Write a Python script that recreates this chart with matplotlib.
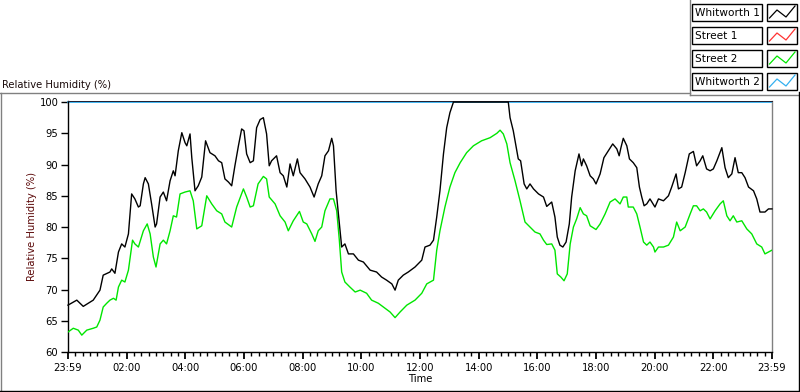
import matplotlib
matplotlib.use("Agg")
import matplotlib.pyplot as plt
from matplotlib.lines import Line2D
from matplotlib.patches import Rectangle

# ---------------- data ----------------
series_names = ["Whitworth 1", "Street 1", "Street 2", "Whitworth 2"]
series_colors = ["#000000", "#ff3333", "#00e600", "#33b0f0"]

tick_hours = [0, 2, 4, 6, 8, 10, 12, 14, 16, 18, 20, 22, 24]
tick_labels = ["23:59", "02:00", "04:00", "06:00", "08:00", "10:00", "12:00",
               "14:00", "16:00", "18:00", "20:00", "22:00", "23:59"]
y_ticks = [60, 65, 70, 75, 80, 85, 90, 95, 100]

# Whitworth 1 (hours, %RH)
w1_t = [0.00, 0.30, 0.52, 0.86, 1.09, 1.20, 1.43, 1.49, 1.60, 1.72, 1.83, 1.94,
        2.06, 2.17, 2.28, 2.40, 2.46, 2.57, 2.63, 2.74, 2.85, 2.97, 3.02, 3.14,
        3.25, 3.36, 3.48, 3.59, 3.65, 3.76, 3.88, 3.99, 4.05, 4.16, 4.22, 4.33,
        4.44, 4.56, 4.69, 4.84, 5.01, 5.13, 5.24, 5.35, 5.47, 5.58, 5.69, 5.81,
        5.92, 6.00, 6.09, 6.21, 6.32, 6.43, 6.55, 6.66, 6.77, 6.86, 6.94, 7.11,
        7.23, 7.34, 7.46, 7.57, 7.68, 7.82, 7.91, 8.08, 8.25, 8.39, 8.53, 8.65,
        8.76, 8.88, 8.99, 9.05, 9.14, 9.25, 9.33, 9.44, 9.56, 9.73, 9.90, 10.07,
        10.30, 10.52, 10.69, 10.86, 11.04, 11.15, 11.26, 11.43, 11.60, 11.83,
        12.06, 12.17, 12.34, 12.46, 12.57, 12.68, 12.80, 12.91, 13.02, 13.14,
        15.01, 15.07, 15.18, 15.35, 15.43, 15.55, 15.64, 15.75, 15.87, 16.04,
        16.21, 16.32, 16.49, 16.60, 16.68, 16.77, 16.87, 16.98, 17.09, 17.17,
        17.29, 17.42, 17.51, 17.57, 17.68, 17.80, 17.91, 18.00, 18.14, 18.27,
        18.42, 18.57, 18.71, 18.79, 18.85, 18.93, 19.05, 19.14, 19.27, 19.39,
        19.48, 19.56, 19.64, 19.73, 19.84, 20.01, 20.13, 20.30, 20.47, 20.58,
        20.73, 20.81, 20.92, 21.04, 21.18, 21.32, 21.43, 21.55, 21.64, 21.77,
        21.89, 22.00, 22.12, 22.29, 22.40, 22.51, 22.63, 22.74, 22.85, 22.97,
        23.08, 23.20, 23.37, 23.48, 23.59, 23.76, 23.88, 24.00]
w1_v = [67.5, 68.3, 67.3, 68.3, 69.9, 72.3, 72.8, 73.3, 72.6, 76.0, 77.3, 76.8,
        78.9, 85.3, 84.5, 83.2, 83.4, 86.9, 87.9, 86.9, 83.7, 80.0, 80.5, 84.8,
        85.6, 84.2, 87.4, 89.0, 88.2, 92.2, 95.1, 93.5, 93.0, 94.9, 91.1, 85.8,
        86.6, 88.0, 93.8, 91.9, 91.4, 90.6, 90.3, 87.7, 87.2, 86.6, 89.8, 93.0,
        95.7, 95.4, 91.7, 90.3, 90.6, 95.9, 97.2, 97.5, 94.9, 89.8, 90.6, 91.4,
        88.7, 88.2, 86.4, 90.1, 88.2, 90.9, 88.7, 87.7, 86.4, 84.8, 86.9, 88.2,
        91.4, 92.2, 94.2, 93.0, 85.8, 80.5, 76.8, 77.3, 75.7, 75.7, 74.7, 74.4,
        73.1, 72.8, 72.0, 71.5, 70.9, 69.9, 71.5, 72.3, 72.8, 73.6,
        74.7, 76.8, 77.1, 77.9, 81.6, 85.8, 91.7, 95.9, 98.3, 100.0,
        100.0, 97.5, 95.4, 90.9, 90.6, 86.9, 86.1, 86.9, 86.1, 85.3,
        84.8, 83.3, 84.0, 81.6, 78.4, 77.1, 76.8, 77.6, 80.5, 84.8,
        89.0, 91.7, 89.8, 90.9, 89.8, 88.2, 87.7, 86.9, 88.5, 91.1,
        92.2, 93.3, 92.5, 91.4, 92.7, 94.2, 93.0, 90.9, 90.3, 89.5,
        86.4, 84.8, 83.4, 83.7, 84.5, 83.2, 84.5, 84.2, 85.0, 86.4,
        88.5, 86.1, 86.4, 88.7, 91.7, 92.1, 89.8, 90.6, 91.4, 89.3,
        89.0, 89.3, 90.6, 92.7, 89.5, 87.9, 88.5, 91.1, 88.7, 88.7,
        87.9, 86.4, 85.8, 84.5, 82.4, 82.4, 82.9, 82.9]

# Street 2 (hours, %RH)
s2_t = [0.00, 0.18, 0.35, 0.47, 0.64, 0.86, 0.98, 1.09, 1.20, 1.32, 1.43, 1.55,
        1.64, 1.72, 1.83, 1.94, 2.06, 2.20, 2.28, 2.40, 2.57, 2.70, 2.80, 2.91,
        3.00, 3.14, 3.25, 3.36, 3.48, 3.59, 3.70, 3.82, 3.99, 4.16, 4.27, 4.39,
        4.56, 4.73, 4.90, 5.07, 5.24, 5.35, 5.58, 5.75, 5.98, 6.09, 6.21, 6.32,
        6.48, 6.66, 6.77, 6.86, 7.06, 7.23, 7.40, 7.51, 7.68, 7.89, 8.02, 8.14,
        8.31, 8.42, 8.53, 8.65, 8.76, 8.93, 9.05, 9.16, 9.25, 9.33, 9.44, 9.61,
        9.79, 9.96, 10.18, 10.35, 10.58, 10.81, 10.98, 11.15, 11.32, 11.55,
        11.83, 12.06, 12.23, 12.46, 12.57, 12.68, 12.85, 13.02, 13.19, 13.37,
        13.59, 13.82, 14.10, 14.39, 14.62, 14.73, 14.84, 14.96, 15.07, 15.24,
        15.41, 15.58, 15.75, 15.92, 16.09, 16.21, 16.32, 16.49, 16.60, 16.68,
        16.80, 16.91, 17.02, 17.12, 17.23, 17.34, 17.46, 17.57, 17.68, 17.80,
        18.00, 18.14, 18.31, 18.48, 18.65, 18.82, 18.93, 19.05, 19.10, 19.27,
        19.39, 19.50, 19.62, 19.73, 19.84, 19.96, 20.01, 20.13, 20.30, 20.47,
        20.64, 20.75, 20.87, 21.04, 21.21, 21.32, 21.43, 21.55, 21.66, 21.77,
        21.89, 22.06, 22.23, 22.34, 22.46, 22.57, 22.68, 22.80, 22.97, 23.14,
        23.31, 23.48, 23.65, 23.76, 23.88, 24.00]
s2_v = [63.2, 63.8, 63.5, 62.7, 63.5, 63.8, 64.0, 65.1, 67.2, 67.8, 68.3, 68.6,
        68.3, 70.4, 71.5, 71.2, 73.1, 77.9, 77.3, 76.8, 79.4, 80.5, 78.9, 75.2,
        73.6, 77.3, 77.9, 77.3, 79.4, 81.8, 81.6, 85.3, 85.6, 85.8, 84.2, 79.7,
        80.2, 85.0, 83.7, 82.6, 82.1, 80.8, 80.0, 83.2, 86.1, 84.8, 83.2, 83.4,
        86.9, 88.1, 87.7, 84.8, 83.7, 81.8, 80.8, 79.4, 81.0, 82.5, 80.8, 80.5,
        78.9, 77.7, 79.4, 80.0, 82.6, 84.5, 84.5, 82.6, 77.9, 72.8, 71.2, 70.4,
        69.6, 69.9, 69.4, 68.3, 67.8, 67.0, 66.4, 65.5, 66.4, 67.5,
        68.3, 69.4, 70.9, 71.5, 76.3, 79.4, 83.2, 86.4, 88.7, 90.3,
        91.9, 93.0, 93.8, 94.3, 95.0, 95.5, 94.9, 93.3, 90.3, 87.4,
        84.2, 80.8, 80.0, 79.2, 78.9, 77.9, 77.2, 77.3, 76.3, 72.5,
        72.0, 71.4, 72.5, 77.3, 80.0, 81.3, 83.1, 82.1, 81.8, 80.2,
        79.6, 80.5, 82.1, 84.0, 84.5, 83.7, 84.8, 84.8, 83.2, 83.2,
        82.1, 80.0, 77.6, 77.1, 77.6, 76.8, 76.0, 76.8, 76.8, 77.1,
        78.4, 80.8, 79.4, 80.0, 82.1, 83.4, 83.4, 82.6, 82.9, 82.4,
        81.3, 82.6, 83.7, 84.2, 81.8, 81.0, 81.8, 80.8, 81.0, 79.7,
        78.9, 77.3, 76.8, 75.7, 76.0, 76.3]

# Whitworth 2 (saturated at the top of the scale)
w2_t = [0.0, 24.0]
w2_v = [100.0, 100.0]

# Street 1 has no samples in view
s1_t = []
s1_v = []

# ---------------- figure ----------------
W, H = 800, 392
FONT = "DejaVu Sans"
FS = 7.2
plt.rcParams["font.family"] = [FONT]

fig = plt.figure(figsize=(W / 100, H / 100), dpi=100)
fig.patch.set_facecolor("white")


def fx(px):
    return px / W


def fy(py):
    return 1 - py / H


ax = fig.add_axes([fx(68), fy(352), fx(772) - fx(68), fy(100.5) - fy(352)])
ax.set_xlim(0, 24)
ax.set_ylim(60, 100.25)

ax.plot(w2_t, w2_v, color=series_colors[3], lw=1.3, zorder=2, clip_on=False)
ax.plot(s1_t, s1_v, color=series_colors[1], lw=1.0, zorder=3)
ax.plot(s2_t, s2_v, color=series_colors[2], lw=1.0, zorder=3)
ax.plot(w1_t, w1_v, color=series_colors[0], lw=1.0, zorder=4, clip_on=False)

for s in ["left", "bottom"]:
    ax.spines[s].set_color("black")
    ax.spines[s].set_linewidth(1.0)
ax.spines["right"].set_color("#808080")
ax.spines["right"].set_linewidth(1.0)
ax.spines["top"].set_color("#202030")
ax.spines["top"].set_linewidth(0.7)

ax.set_yticks(y_ticks)
ax.set_yticklabels([str(v) for v in y_ticks])
ax.set_xticks(tick_hours)
ax.set_xticklabels(tick_labels)
ax.set_xticks([h / 4 for h in range(0, 97) if h % 8 != 0], minor=True)
ax.tick_params(axis="y", direction="out", length=5, width=1, pad=2,
               labelsize=FS, colors="black")
ax.tick_params(axis="x", which="major", direction="out", length=5, width=1.3,
               pad=3, labelsize=FS, colors="black")
ax.tick_params(axis="x", which="minor", direction="out", length=3, width=1)
ax.tick_params(right=False, top=False)

ax.set_ylabel("Relative Humidity (%)", fontsize=FS, color="#5c0a0a", labelpad=2)
ax.set_xlabel("Time", fontsize=FS, color="black", labelpad=1)

# title
fig.text(fx(2), fy(88), "Relative Humidity (%)", fontsize=FS, color="#1a0a0a",
         ha="left", va="baseline")

# frame lines
fig.add_artist(Line2D([fx(0), fx(690)], [fy(92.5), fy(92.5)], color="#808080", lw=1))
fig.add_artist(Line2D([fx(690), fx(690)], [fy(0), fy(94.5)], color="#808080", lw=1))
fig.add_artist(Line2D([fx(690), fx(798)], [fy(94.5), fy(94.5)], color="#808080", lw=1))
fig.add_artist(Line2D([fx(1), fx(1)], [fy(92.5), fy(391)], color="#808080", lw=1))
fig.add_artist(Line2D([fx(0), fx(799)], [fy(391), fy(391)], color="black", lw=1))
fig.add_artist(Line2D([fx(798.5), fx(798.5)], [fy(92), fy(391)], color="black", lw=1))

# legend panel
row_tops = [4, 27, 50, 73]
row_h = 17
for name, col, top in zip(series_names, series_colors, row_tops):
    fig.add_artist(Rectangle((fx(692), fy(top + row_h)), fx(762) - fx(692),
                             fy(top) - fy(top + row_h), facecolor="white",
                             edgecolor="black", lw=1))
    fig.text(fx(695), fy(top + row_h / 2 + 0.5), name, fontsize=7.6,
             color="black", ha="left", va="center")
    fig.add_artist(Rectangle((fx(766.5), fy(top + row_h)), fx(797) - fx(766.5),
                             fy(top) - fy(top + row_h), facecolor="white",
                             edgecolor="black", lw=1))
    zx = [769.5, 777, 786, 795]
    zy = [top + 14, top + 6, top + 13, top + 2]
    fig.add_artist(Line2D([fx(v) for v in zx], [fy(v) for v in zy],
                          color=col, lw=0.9))

fig.savefig("out.png", dpi=100, facecolor="white")
